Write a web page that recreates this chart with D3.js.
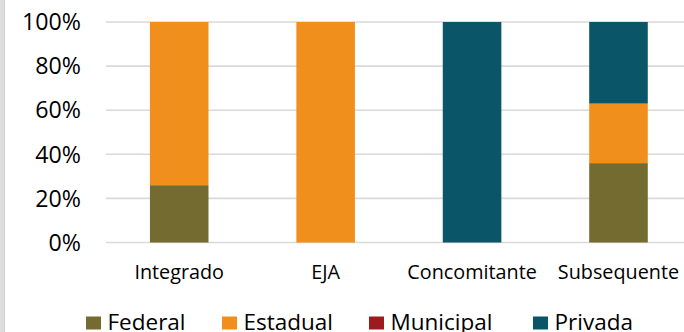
<!DOCTYPE html>
<html>
<head>
<meta charset="utf-8">
<script src="https://cdn.jsdelivr.net/npm/d3@7"></script>
<style>
  html, body { margin: 0; padding: 0; background: #fff; }
  svg { display: block; font-family: "Open Sans", Lato, sans-serif; }
</style>
</head>
<body>
<svg id="chart" width="684" height="332"></svg>
<script>
// Share of enrolments by network, per course type (percent)
const categories = ["Integrado", "EJA", "Concomitante", "Subsequente"];
const seriesNames = ["Federal", "Estadual", "Municipal", "Privada"];
const federal   = [26, 0, 0, 36];
const estadual  = [74, 100, 0, 27];
const municipal = [0, 0, 0, 0];
const privada   = [0, 0, 100, 37];
const yTicks = [0, 20, 40, 60, 80, 100];
const colors = ["#736B2F", "#F18F1C", "#9B1B1E", "#0B5568"];

const values = [federal, estadual, municipal, privada];
const rows = categories.map((c, i) => {
  const r = { category: c };
  seriesNames.forEach((s, k) => { r[s] = values[k][i]; });
  return r;
});

const svg = d3.select("#chart");

// light frame strip on the left edge
svg.append("rect").attr("x", 0).attr("y", 0).attr("width", 4).attr("height", 332).attr("fill", "#dedede");
svg.append("line").attr("x1", 4.5).attr("x2", 4.5).attr("y1", 0).attr("y2", 332)
  .attr("stroke", "#cfcfcf").attr("stroke-width", 1);

const x = d3.scaleBand().domain(categories).range([106, 691.7]).paddingInner(0.6).paddingOuter(0.3);
const y = d3.scaleLinear().domain([0, 100]).range([242.5, 22]);

// gridlines
svg.append("g").selectAll("line").data(yTicks).join("line")
  .attr("x1", 106).attr("x2", 684)
  .attr("y1", d => y(d)).attr("y2", d => y(d))
  .attr("stroke", "#d9d9d9").attr("stroke-width", 1.6);

// y tick labels
svg.append("g").selectAll("text").data(yTicks).join("text")
  .attr("x", 81).attr("y", d => y(d) + 8.2)
  .attr("text-anchor", "end")
  .attr("font-size", 23.2).attr("fill", "#000")
  .text(d => d + "%");

// stacked bars
const stack = d3.stack().keys(seriesNames)(rows);
svg.append("g").selectAll("g").data(stack).join("g")
  .attr("fill", (d, i) => colors[i])
  .selectAll("rect").data(d => d).join("rect")
  .attr("x", d => x(d.data.category))
  .attr("width", x.bandwidth())
  .attr("y", d => y(d[1]))
  .attr("height", d => y(d[0]) - y(d[1]));

// category labels
svg.append("g").selectAll("text").data(categories).join("text")
  .attr("x", d => x(d) + x.bandwidth() / 2)
  .attr("y", 279)
  .attr("text-anchor", "middle")
  .attr("font-size", 19.8).attr("fill", "#000")
  .text(d => d);

// legend
const legendX = [86, 222, 369, 533];
const legend = svg.append("g").selectAll("g").data(seriesNames).join("g")
  .attr("transform", (d, i) => `translate(${legendX[i]},0)`);
legend.append("rect").attr("x", 0).attr("y", 316.5).attr("width", 15).attr("height", 13)
  .attr("fill", (d, i) => colors[i]);
legend.append("text").attr("x", 21.5).attr("y", 329.5)
  .attr("font-size", 22.5).attr("fill", "#000")
  .text(d => d);
</script>
</body>
</html>
